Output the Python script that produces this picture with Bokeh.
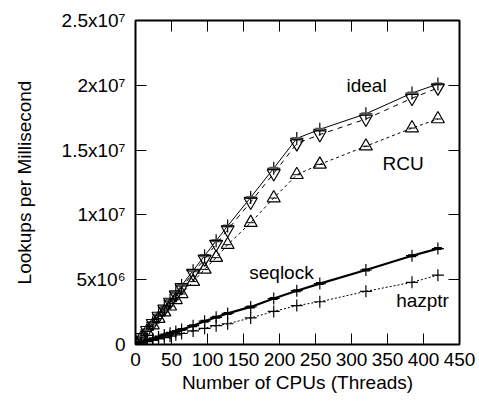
from bokeh.plotting import figure
from bokeh.models import Range1d, LinearAxis, FixedTicker, ColumnDataSource, CustomLabelingPolicy
from bokeh.core.properties import value
from bokeh.embed import file_html
from bokeh.resources import INLINE

# Data (CPUs vs lookups per millisecond)
cpus = [1, 8, 16, 24, 32, 40, 48, 56, 64, 80, 96, 112, 128, 160, 192, 224, 256, 320, 384, 420]
ideal = [0.07e6, 0.57e6, 1.14e6, 1.7e6, 2.28e6, 2.85e6, 3.4e6, 4.0e6, 4.55e6, 5.7e6, 6.85e6, 8.0e6,
         9.15e6, 11.35e6, 13.6e6, 15.9e6, 16.6e6, 17.8e6, 19.4e6, 20.1e6]
qsbr = [0.07e6, 0.55e6, 1.1e6, 1.64e6, 2.2e6, 2.75e6, 3.28e6, 3.85e6, 4.4e6, 5.5e6, 6.6e6, 7.75e6,
        8.85e6, 11.0e6, 13.2e6, 15.5e6, 16.2e6, 17.4e6, 19.0e6, 19.8e6]
rcu = [0.06e6, 0.5e6, 1.0e6, 1.5e6, 2.0e6, 2.5e6, 2.95e6, 3.45e6, 3.9e6, 4.85e6, 5.8e6, 6.7e6,
       7.7e6, 9.4e6, 11.3e6, 13.1e6, 13.9e6, 15.3e6, 16.7e6, 17.4e6]
seqlock = [0.02e6, 0.15e6, 0.3e6, 0.44e6, 0.58e6, 0.73e6, 0.87e6, 1.0e6, 1.15e6, 1.45e6, 1.8e6, 2.1e6,
           2.4e6, 2.9e6, 3.55e6, 4.15e6, 4.7e6, 5.75e6, 6.85e6, 7.4e6]
hazptr = [0.015e6, 0.11e6, 0.22e6, 0.32e6, 0.43e6, 0.53e6, 0.64e6, 0.75e6, 0.85e6, 1.05e6, 1.25e6, 1.45e6,
          1.6e6, 2.05e6, 2.55e6, 3.0e6, 3.3e6, 4.1e6, 4.8e6, 5.35e6]

x_ticks = [0, 50, 100, 150, 200, 250, 300, 350, 400, 450]
y_ticks = [0, 5000000, 10000000, 15000000, 20000000, 25000000]
y_tick_labels = ["0", "5x10\u2076", "1x10\u2077", "1.5x10\u2077", "2x10\u2077", "2.5x10\u2077"]

series_labels = ["ideal", "RCU", "seqlock", "hazptr"]
label_x = [293, 343, 158, 362]
label_y = [20.0e6, 13.97e6, 5.55e6, 3.4e6]

FONT = "Liberation Sans"

p = figure(width=479, height=404, output_backend="svg", toolbar_location=None,
           x_range=Range1d(0, 450), y_range=Range1d(0, 25000000),
           min_border_left=135, min_border_right=20, min_border_top=20, min_border_bottom=60)
p.grid.visible = False
p.outline_line_color = "black"
p.outline_line_width = 2
p.background_fill_color = "white"
p.border_fill_color = "white"

src = ColumnDataSource(dict(x=cpus, ideal=ideal, qsbr=qsbr, rcu=rcu, seqlock=seqlock, hazptr=hazptr))

# ideal: solid thin with + and error-bar caps
p.line("x", "ideal", source=src, line_color="black", line_width=1)
p.scatter("x", "ideal", source=src, marker="cross", size=13, line_color="black", line_width=1.2)
p.scatter("x", "ideal", source=src, marker="dash", size=9, line_color="#555555", line_width=3)
# dashed with inverted triangles
p.line("x", "qsbr", source=src, line_color="black", line_width=1, line_dash="5 5")
p.scatter("x", "qsbr", source=src, marker="inverted_triangle", size=13, line_color="black",
          fill_color=None, line_width=1.2)
# RCU dotted with triangles
p.line("x", "rcu", source=src, line_color="black", line_width=1, line_dash="3 3")
p.scatter("x", "rcu", source=src, marker="triangle", size=13, line_color="black",
          fill_color=None, line_width=1.2)
p.scatter("x", "rcu", source=src, marker="dash", size=7, line_color="black", line_width=1)
# seqlock thick solid with +
p.line("x", "seqlock", source=src, line_color="black", line_width=2.2)
p.scatter("x", "seqlock", source=src, marker="cross", size=12, line_color="black", line_width=1.2)
p.scatter("x", "seqlock", source=src, marker="dash", size=8, line_color="black", line_width=3)
# hazptr dotted with +
p.line("x", "hazptr", source=src, line_color="black", line_width=1, line_dash="2 2")
p.scatter("x", "hazptr", source=src, marker="cross", size=12, line_color="black", line_width=1.2)

p.text(x=label_x, y=label_y, text=series_labels, text_font=value(FONT), text_font_size="19px",
       text_align="left", text_baseline="middle", text_color="black")

# Axes
for ax in (p.xaxis[0], p.yaxis[0]):
    ax.axis_line_color = None
    ax.major_tick_in = 11
    ax.major_tick_out = 0
    ax.minor_tick_in = 0
    ax.minor_tick_out = 0
    ax.major_tick_line_color = "black"
    ax.major_tick_line_width = 1
    ax.major_label_text_font = FONT
    ax.major_label_text_font_size = "19px"
    ax.major_label_text_color = "black"
    ax.axis_label_text_font = FONT
    ax.axis_label_text_font_size = "19px"
    ax.axis_label_text_font_style = "normal"
    ax.axis_label_text_color = "black"

p.xaxis[0].ticker = FixedTicker(ticks=x_ticks)
p.xaxis[0].major_label_standoff = 8
p.xaxis[0].axis_label = "Number of CPUs (Threads)"
p.xaxis[0].axis_label_standoff = 3

p.yaxis[0].ticker = FixedTicker(ticks=y_ticks)
p.yaxis[0].major_label_overrides = {t: l for t, l in zip(y_ticks, y_tick_labels)}
p.yaxis[0].major_label_standoff = 10
p.yaxis[0].axis_label = "Lookups per Millisecond"
p.yaxis[0].axis_label_standoff = 24

# Mirrored ticks on top and right (no labels)
def mirror_axis(ticks):
    return LinearAxis(ticker=FixedTicker(ticks=ticks), axis_line_color=None,
                      major_tick_in=11, major_tick_out=0, minor_tick_in=0, minor_tick_out=0,
                      major_label_text_font_size="1px", major_label_standoff=0,
                      axis_label_standoff=0,
                      major_label_policy=CustomLabelingPolicy(
                          code="for (const i of indices) { indices.unset(i) } return indices"))

p.add_layout(mirror_axis(x_ticks), "above")
p.add_layout(mirror_axis(y_ticks), "right")

open("out.html", "w").write(file_html(p, INLINE))
